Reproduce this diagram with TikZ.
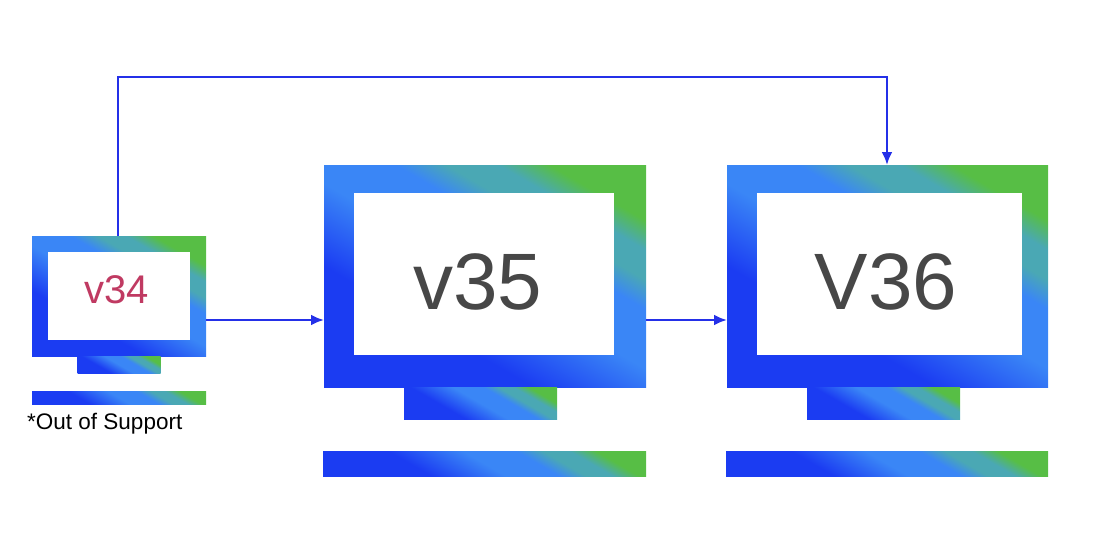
\documentclass[tikz,border=0pt]{standalone}
\usepackage{fontspec}
\setmainfont{Liberation Sans}
\usetikzlibrary{arrows.meta}
\definecolor{bA}{HTML}{1B3CF2}
\definecolor{bB}{HTML}{3A86F6}
\definecolor{tT}{HTML}{4AA8B4}
\definecolor{gG}{HTML}{57BE45}
\definecolor{arr}{HTML}{2430E8}
\definecolor{vred}{HTML}{C03A62}
\definecolor{vgray}{HTML}{474747}
\pgfdeclarehorizontalshading{mon}{100bp}{color(0bp)=(bA); color(36bp)=(bA); color(50bp)=(bB); color(60bp)=(bB); color(65bp)=(tT); color(70bp)=(tT); color(75bp)=(gG); color(100bp)=(gG)}
\begin{document}
\begin{tikzpicture}[x=1pt,y=-1pt,
  box/.style={inner sep=0pt,outer sep=0pt,shading=mon,shading angle=60},
  scr/.style={inner sep=0pt,outer sep=0pt,fill=white},
  con/.style={draw=arr,line width=2.5pt,-{Latex[length=13pt,width=11pt]}}]
\useasboundingbox (0,0) rectangle (1120,542);
% v34
\node[box,minimum width=174pt,minimum height=120pt] (m34) at (119,296) {};
\node[scr,minimum width=142pt,minimum height=88pt] (s34) at (119,296) {};
\node[box,minimum width=83pt,minimum height=17pt,anchor=north] (st34) at (m34.south) {};
\node[box,minimum width=174pt,minimum height=13pt] (b34) at (119,397.5) {};
\node[anchor=north west,font=\fontsize{22.5}{26}\selectfont,text=black,inner sep=0pt] (oos) at (27,413) {*Out of Support};
\node[text=vred,font=\fontsize{40}{44}\selectfont] (t34) at (117,290) {v34};
% v35
\node[box,minimum width=322pt,minimum height=222pt] (m35) at (485,276) {};
\node[scr,minimum width=260pt,minimum height=162pt] (s35) at (484,274) {};
\node[box,minimum width=153pt,minimum height=32pt,anchor=north] (st35) at ([xshift=-4.5pt]m35.south) {};
\node[box,minimum width=323pt,minimum height=25pt] (b35) at (484.5,463.5) {};
\node[text=vgray,font=\fontsize{80}{84}\selectfont] (t35) at (478,282) {v35};
% v36
\node[box,minimum width=321pt,minimum height=222pt] (m36) at (887.5,276) {};
\node[scr,minimum width=265pt,minimum height=162pt] (s36) at (889.5,274) {};
\node[box,minimum width=153pt,minimum height=32pt,anchor=north] (st36) at ([xshift=-4pt]m36.south) {};
\node[box,minimum width=322pt,minimum height=25pt] (b36) at (887,463.5) {};
\node[text=vgray,font=\fontsize{80}{84}\selectfont] (t36) at (886,282) {V36};
% connectors
\coordinate (a1) at (m34.east |- 0,320);
\coordinate (a2) at (m35.west |- 0,320);
\coordinate (a3) at (m35.east |- 0,320);
\coordinate (a4) at (m36.west |- 0,320);
\draw[con] (a1) -- (a2);
\draw[con] (a3) -- (a4);
\coordinate (u1) at (118,236);
\coordinate (u2) at (887,165);
\draw[con] (u1) -- (118,77) -- (887,77) -- (u2);
\end{tikzpicture}
\end{document}
